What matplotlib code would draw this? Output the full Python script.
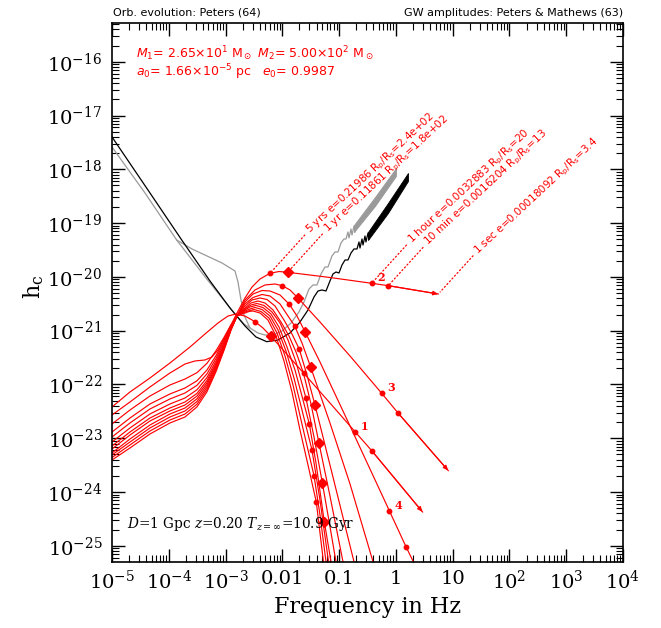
import numpy as np
import matplotlib
matplotlib.use("Agg")
import matplotlib.pyplot as plt
from matplotlib.ticker import FixedLocator, FixedFormatter, LogLocator, LogFormatterMathtext, NullFormatter

plt.rcParams['font.family'] = 'DejaVu Serif'
plt.rcParams['mathtext.fontset'] = 'dejavuserif'

# all values: (log10 frequency [Hz], log10 h_c)

# detector sensitivity, black
black = [(-5.000, -17.399), (-4.331, -18.440), (-3.772, -19.314), (-3.274, -20.076),
         (-2.922, -20.578), (-2.658, -20.912), (-2.464, -21.117), (-2.275, -21.204),
         (-2.076, -21.173), (-1.865, -21.043), (-1.689, -20.838), (-1.548, -20.615),
         (-1.442, -20.373), (-1.372, -20.262), (-1.302, -20.243), (-1.231, -20.262),
         (-1.161, -20.076), (-1.108, -19.946), (-1.055, -19.909), (-1.002, -19.927),
         (-0.949, -19.779), (-0.896, -19.686), (-0.844, -19.686), (-0.791, -19.556),
         (-0.738, -19.481), (-0.685, -19.481), (-0.650, -19.351), (-0.632, -19.463),
         (-0.597, -19.295), (-0.579, -19.407), (-0.544, -19.240), (-0.527, -19.351),
         (-0.491, -19.184), (-0.474, -19.295)]
black_band_lf = [-0.491, -0.139, 0.213]
black_band_hi = [-19.165, -18.626, -18.069]
black_band_lo = [-19.314, -18.812, -18.217]

# detector sensitivity, gray (with confusion bump)
gray = [(-5.000, -17.585), (-4.419, -18.440), (-3.861, -19.314), (-3.591, -19.481),
        (-3.327, -19.611), (-3.063, -19.741), (-2.834, -19.890), (-2.781, -20.095),
        (-2.728, -20.429), (-2.675, -20.708), (-2.570, -20.950), (-2.429, -21.043),
        (-2.305, -21.080), (-2.164, -21.080), (-2.006, -21.006), (-1.847, -20.857),
        (-1.707, -20.652), (-1.619, -20.466), (-1.530, -20.225), (-1.460, -20.150),
        (-1.390, -20.150), (-1.319, -19.946), (-1.249, -19.816), (-1.196, -19.816),
        (-1.126, -19.611), (-1.073, -19.537), (-1.020, -19.537), (-0.967, -19.370),
        (-0.915, -19.295), (-0.879, -19.295), (-0.844, -19.165), (-0.826, -19.277),
        (-0.791, -19.109), (-0.773, -19.221), (-0.738, -19.054), (-0.720, -19.165)]
gray_low = [(-3.861, -19.314), (-3.345, -20.020), (-2.834, -20.690), (-2.675, -20.875),
            (-2.570, -20.950)]
gray_band_lf = [-0.738, -0.368, 0.002]
gray_band_hi = [-19.035, -18.515, -17.976]
gray_band_lo = [-19.165, -18.682, -18.124]

# harmonics n = 1 ... 12
h1 = [(-5.000, -22.418), (-4.683, -22.139), (-4.331, -21.879), (-3.979, -21.600), (-3.626, -21.303),
      (-3.362, -21.061), (-3.133, -20.857), (-2.957, -20.727), (-2.816, -20.690), (-2.658, -20.727),
      (-2.481, -20.832), (-2.341, -20.950), (-2.205, -21.098), (-1.689, -21.712), (-1.161, -22.344),
      (-0.720, -22.877), (-0.426, -23.230), (0.470, -24.370)]
h2 = [(-5.000, -22.567), (-4.683, -22.325), (-4.331, -22.046), (-3.979, -21.786), (-3.714, -21.619),
      (-3.538, -21.563), (-3.362, -21.544), (-3.239, -21.489), (-3.133, -21.359), (-3.027, -21.154),
      (-2.922, -20.931), (-2.798, -20.671), (-2.658, -20.392), (-2.534, -20.188), (-2.393, -20.039),
      (-2.217, -19.933), (-2.059, -19.900), (-1.906, -19.914), (-1.161, -20.011), (-0.426, -20.119),
      (-0.134, -20.163), (0.747, -20.318)]
h3 = [(-5.000, -22.734), (-4.683, -22.474), (-4.331, -22.214), (-3.979, -22.009), (-3.714, -21.898),
      (-3.503, -21.780), (-3.327, -21.606), (-3.168, -21.372), (-3.027, -21.124), (-2.904, -20.890),
      (-2.798, -20.727), (-2.658, -20.429), (-2.481, -20.243), (-2.305, -20.150), (-2.129, -20.132),
      (-2.001, -20.163), (-1.865, -20.243), (-1.719, -20.398), (-1.337, -20.838), (-0.808, -21.470),
      (-0.250, -22.163), (0.042, -22.535), (0.923, -23.602)]
h4 = [(-5.000, -22.883), (-4.683, -22.623), (-4.331, -22.362), (-3.979, -22.176), (-3.714, -22.065),
      (-3.503, -21.931), (-3.327, -21.730), (-3.168, -21.463), (-3.027, -21.182), (-2.904, -20.914),
      (-2.798, -20.727), (-2.658, -20.466), (-2.517, -20.318), (-2.358, -20.253), (-2.217, -20.262),
      (-2.041, -20.336), (-1.877, -20.509), (-1.742, -20.727), (-1.601, -21.018), (-1.337, -21.582),
      (-0.808, -22.771), (-0.116, -24.345), (0.178, -25.015), (0.307, -25.294)]
h5 = [(-5.000, -22.976), (-4.683, -22.715), (-4.331, -22.455), (-3.979, -22.269), (-3.714, -22.158),
      (-3.503, -22.015), (-3.327, -21.801), (-3.168, -21.515), (-3.027, -21.214), (-2.904, -20.927),
      (-2.798, -20.727), (-2.658, -20.503), (-2.517, -20.383), (-2.358, -20.327), (-2.217, -20.355),
      (-2.041, -20.503), (-1.900, -20.727), (-1.782, -20.912), (-1.654, -21.228), (-1.500, -21.680),
      (-1.161, -22.715), (-0.808, -23.849), (-0.403, -25.294)]
h6 = [(-5.000, -23.069), (-4.683, -22.808), (-4.331, -22.548), (-3.979, -22.362), (-3.714, -22.251),
      (-3.503, -22.098), (-3.327, -21.870), (-3.168, -21.565), (-3.027, -21.245), (-2.904, -20.940),
      (-2.798, -20.727), (-2.658, -20.541), (-2.534, -20.429), (-2.393, -20.392), (-2.270, -20.420),
      (-2.129, -20.541), (-1.971, -20.801), (-1.830, -21.061), (-1.701, -21.346), (-1.566, -21.823),
      (-1.425, -22.381), (-1.161, -23.496), (-0.738, -25.294)]
h7 = [(-5.000, -23.143), (-4.683, -22.883), (-4.331, -22.623), (-3.979, -22.437), (-3.714, -22.325),
      (-3.503, -22.165), (-3.327, -21.925), (-3.168, -21.606), (-3.027, -21.269), (-2.904, -20.950),
      (-2.798, -20.727), (-2.658, -20.578), (-2.552, -20.485), (-2.429, -20.448), (-2.305, -20.485),
      (-2.164, -20.615), (-2.024, -20.838), (-1.883, -21.098), (-1.759, -21.396), (-1.627, -21.792),
      (-1.495, -22.362), (-1.354, -23.093), (-1.161, -24.072), (-0.932, -25.294)]
h8 = [(-5.000, -23.199), (-4.683, -22.939), (-4.331, -22.678), (-3.979, -22.492), (-3.714, -22.381),
      (-3.503, -22.215), (-3.327, -21.968), (-3.168, -21.637), (-3.027, -21.290), (-2.904, -20.959),
      (-2.798, -20.727), (-2.658, -20.596), (-2.552, -20.522), (-2.446, -20.494), (-2.323, -20.531),
      (-2.182, -20.652), (-2.041, -20.857), (-1.900, -21.173), (-1.759, -21.582), (-1.583, -22.256),
      (-1.442, -22.976), (-1.296, -23.825), (-1.178, -24.537), (-1.055, -25.294)]
h9 = [(-5.000, -23.273), (-4.683, -23.013), (-4.331, -22.753), (-3.979, -22.548), (-3.714, -22.437),
      (-3.503, -22.266), (-3.327, -22.009), (-3.168, -21.667), (-3.027, -21.308), (-2.904, -20.966),
      (-2.798, -20.727), (-2.658, -20.615), (-2.570, -20.559), (-2.464, -20.531), (-2.341, -20.569),
      (-2.200, -20.689), (-2.059, -20.931), (-1.918, -21.303), (-1.777, -21.730), (-1.654, -22.214),
      (-1.525, -22.734), (-1.407, -23.459), (-1.261, -24.550), (-1.143, -25.294)]
h10 = [(-5.000, -23.310), (-4.683, -23.069), (-4.331, -22.808), (-3.979, -22.604), (-3.714, -22.492),
       (-3.503, -22.316), (-3.327, -22.052), (-3.168, -21.699), (-3.027, -21.327), (-2.904, -20.974),
       (-2.798, -20.727), (-2.658, -20.634), (-2.570, -20.596), (-2.481, -20.569), (-2.358, -20.606),
       (-2.217, -20.727), (-2.076, -20.987), (-1.936, -21.377), (-1.795, -21.879), (-1.654, -22.474),
       (-1.478, -23.217), (-1.337, -24.147), (-1.187, -25.294)]
h11 = [(-5.000, -23.357), (-4.683, -23.124), (-4.331, -22.864), (-3.979, -22.660), (-3.714, -22.548),
       (-3.503, -22.366), (-3.327, -22.093), (-3.168, -21.729), (-3.027, -21.346), (-2.904, -20.981),
       (-2.798, -20.727), (-2.658, -20.652), (-2.570, -20.624), (-2.499, -20.606), (-2.376, -20.643),
       (-2.235, -20.764), (-2.094, -21.043), (-1.953, -21.470), (-1.812, -22.009), (-1.671, -22.660),
       (-1.441, -23.700), (-1.337, -24.425), (-1.231, -25.294)]
h12 = [(-5.000, -23.403), (-4.683, -23.180), (-4.331, -22.920), (-3.979, -22.715), (-3.714, -22.604),
       (-3.503, -22.416), (-3.327, -22.135), (-3.168, -21.760), (-3.027, -21.364), (-2.904, -20.989),
       (-2.798, -20.727), (-2.658, -20.671), (-2.587, -20.643), (-2.517, -20.634), (-2.393, -20.671),
       (-2.253, -20.801), (-2.112, -21.098), (-1.971, -21.563), (-1.830, -22.139), (-1.689, -22.846),
       (-1.548, -23.496), (-1.402, -24.184), (-1.276, -25.294)]

# time markers along the harmonics
t5yr = [(-2.481, -20.832), (-2.217, -19.933), (-2.001, -20.163), (-1.877, -20.509),
        (-1.782, -20.912), (-1.701, -21.346), (-1.627, -21.792), (-1.583, -22.256),
        (-1.525, -22.734), (-1.478, -23.217), (-1.441, -23.700), (-1.402, -24.184)]
t1yr = [(-2.205, -21.098), (-1.906, -19.914), (-1.719, -20.398), (-1.601, -21.018),
        (-1.500, -21.680), (-1.425, -22.381), (-1.354, -23.093), (-1.296, -23.825),
        (-1.261, -24.550)]
t1hr = [(-0.720, -22.877), (-0.426, -20.119), (-0.250, -22.163), (-0.116, -24.345)]
t10min = [(-0.426, -23.230), (-0.134, -20.163), (0.042, -22.535), (0.178, -25.015)]

harm_labels = ['1', '2', '3', '4']
ann_texts = [r'5 yrs e=0.21986 R$_{\rm p}$/R$_{\rm s}$=2.4e+02',
             r'1 yr e=0.11861 R$_{\rm p}$/R$_{\rm s}$=1.8e+02',
             r'1 hour e=0.0032883 R$_{\rm p}$/R$_{\rm s}$=20',
             r'10 min e=0.0016204 R$_{\rm p}$/R$_{\rm s}$=13',
             r'1 sec e=0.00018092 R$_{\rm p}$/R$_{\rm s}$=3.4']
xtick_vals = [-5, -4, -3, -2, -1, 0, 1, 2, 3, 4]
xtick_labels = [r'$\mathdefault{10^{-5}}$', r'$\mathdefault{10^{-4}}$', r'$\mathdefault{10^{-3}}$',
                '0.01', '0.1', '1', '10', r'$\mathdefault{10^{2}}$', r'$\mathdefault{10^{3}}$',
                r'$\mathdefault{10^{4}}$']


def xy(pts):
    a = np.array(pts, dtype=float)
    return 10 ** a[:, 0], 10 ** a[:, 1]


fig = plt.figure(figsize=(6.61, 6.28), dpi=100)
ax = fig.add_axes([112 / 661, 66.3 / 628, 511 / 661, 538.4 / 628])
ax.set_xscale('log')
ax.set_yscale('log')

RED = '#ff0000'
GRAY = '#9a9a9a'

# sensitivity curves
ax.plot(*xy(gray), color=GRAY, lw=0.9)
ax.plot(*xy(gray_low), color=GRAY, lw=0.9)
ax.fill_between(10 ** np.array(gray_band_lf), 10 ** np.array(gray_band_lo),
                10 ** np.array(gray_band_hi), color=GRAY, lw=0.6)
ax.plot(*xy(black), color='black', lw=0.9)
ax.fill_between(10 ** np.array(black_band_lf), 10 ** np.array(black_band_lo),
                10 ** np.array(black_band_hi), color='black', lw=0.6)

# harmonics
harmonics = [h1, h2, h3, h4, h5, h6, h7, h8, h9, h10, h11, h12]
for h in harmonics:
    ax.plot(*xy(h), color=RED, lw=0.85)

# small arrow heads where n=1,2,3 stop
for h in [h1, h2, h3]:
    x, y = xy(h[-2:])
    ax.annotate('', xy=(x[1], y[1]), xytext=(x[0], y[0]),
                arrowprops=dict(arrowstyle='-|>,head_length=0.6,head_width=0.25', color=RED,
                                lw=0.85, mutation_scale=5, shrinkA=0, shrinkB=0))

ax.plot(*xy(t5yr), ls='none', marker='o', ms=3.2, color=RED)
ax.plot(*xy(t1yr), ls='none', marker='D', ms=5.0, color=RED)
ax.plot(*xy(t1hr), ls='none', marker='o', ms=3.2, color=RED)
ax.plot(*xy(t10min), ls='none', marker='o', ms=3.2, color=RED)

# harmonic numbers
for (lf, lh), s in zip(t1hr, harm_labels):
    ax.annotate(s, xy=(10 ** lf, 10 ** lh), xytext=(6.5, 4), textcoords='offset points',
                ha='center', va='center', color=RED, fontsize=8, fontweight='bold')

# dotted leaders with orbit info along n=2
ann_pts = [t5yr[1], t1yr[1], t1hr[1], t10min[1], h2[-1]]
for (lf, lh), txt in zip(ann_pts, ann_texts):
    p = (10 ** lf, 10 ** lh)
    ax.annotate('', xy=p, xytext=(25, 27.5), textcoords='offset points',
                arrowprops=dict(arrowstyle='-', color=RED, lw=0.9, linestyle=(0, (1, 2)),
                                shrinkA=0, shrinkB=2))
    ax.annotate(txt, xy=p, xytext=(27.5, 30), textcoords='offset points',
                rotation=43, rotation_mode='anchor', ha='left', va='center',
                color=RED, fontsize=7.5, family='DejaVu Sans', math_fontfamily='dejavusans')

# text in the panel
ax.text(0.047, 0.943, r'$M_1$= 2.65$\times$10$^1$ M$_\odot$ $M_2$= 5.00$\times$10$^2$ M$_\odot$',
        transform=ax.transAxes, color=RED, fontsize=9, family='DejaVu Sans',
        math_fontfamily='dejavusans', ha='left', va='center')
ax.text(0.047, 0.910, r'$a_0$= 1.66$\times$10$^{-5}$ pc   $e_0$= 0.9987',
        transform=ax.transAxes, color=RED, fontsize=9, family='DejaVu Sans',
        math_fontfamily='dejavusans', ha='left', va='center')
ax.text(0.029, 0.070, r'$D$=1 Gpc $z$=0.20 $T_{z=\infty}$=10.9 Gyr',
        transform=ax.transAxes, color='black', fontsize=9.8, ha='left', va='center')

fig.text(113 / 661, 1 - 12.6 / 628, 'Orb. evolution: Peters (64)', ha='left', va='center',
         fontsize=8, family='DejaVu Sans')
fig.text(623 / 661, 1 - 12.6 / 628, 'GW amplitudes: Peters & Mathews (63)', ha='right',
         va='center', fontsize=8, family='DejaVu Sans')

# axes
ax.set_xlim(1e-5, 1e4)
ax.set_ylim(10 ** -25.294, 10 ** -15.286)
ax.xaxis.set_major_locator(FixedLocator([10.0 ** v for v in xtick_vals]))
ax.xaxis.set_major_formatter(FixedFormatter(xtick_labels))
ax.yaxis.set_major_locator(FixedLocator(10.0 ** np.arange(-25, -15)))
ax.yaxis.set_major_formatter(LogFormatterMathtext())
for axis in (ax.xaxis, ax.yaxis):
    axis.set_minor_locator(LogLocator(base=10, subs=np.arange(2, 10), numticks=100))
    axis.set_minor_formatter(NullFormatter())
ax.tick_params(which='both', direction='in', top=True, right=True)
ax.tick_params(which='major', length=9.5, width=1.0, labelsize=14)
ax.tick_params(which='minor', length=5, width=0.8)
ax.tick_params(axis='x', pad=6)
ax.tick_params(axis='y', pad=7)
for s in ax.spines.values():
    s.set_linewidth(1.2)

ax.set_xlabel('Frequency in Hz', fontsize=16)
ax.xaxis.set_label_coords(0.5, -0.064)
ax.set_ylabel(r'h$_{\rm c}$', fontsize=16)
ax.yaxis.set_label_coords(-0.13, 0.51)

fig.savefig('out.png', dpi=100)
